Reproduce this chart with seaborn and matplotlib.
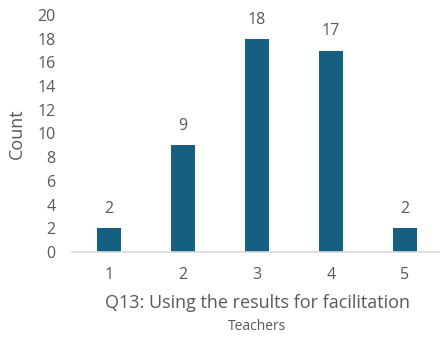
import matplotlib
matplotlib.use("Agg")
import matplotlib.pyplot as plt
import seaborn as sns
import pandas as pd

categories = ["1", "2", "3", "4", "5"]
counts = [2, 9, 18, 17, 2]
y_ticks = [0, 2, 4, 6, 8, 10, 12, 14, 16, 18, 20]
title = "Q13: Using the results for facilitation"
subtitle = "Teachers"
y_label = "Count"

sns.set_theme(style="white")
plt.rcParams["font.family"] = ["Open Sans", "DejaVu Sans"]

text_color = "#595959"
bar_color = "#175f80"

df = pd.DataFrame({"cat": categories, "count": counts})

fig = plt.figure(figsize=(4.4, 3.38), dpi=100)
ax = fig.add_axes([72 / 440, (338 - 252) / 338, 370 / 440, (252 - 15) / 338])

sns.barplot(data=df, x="cat", y="count", color=bar_color, width=0.33,
            saturation=1, ax=ax, edgecolor="none")

ax.set_xlim(-0.5, 4.5)
ax.set_ylim(0, 20)
ax.set_yticks(y_ticks)
ax.set_yticklabels([str(t) for t in y_ticks])
for s in ["top", "right", "left"]:
    ax.spines[s].set_visible(False)
ax.spines["bottom"].set_color("#d9d9d9")
ax.spines["bottom"].set_linewidth(1.2)
ax.tick_params(axis="both", length=0, labelsize=11.5, colors=text_color)
ax.tick_params(axis="y", pad=12)
ax.tick_params(axis="x", pad=11)
ax.set_xlabel("")
ax.set_ylabel("")

for container in ax.containers:
    ax.bar_label(container, labels=[str(v) for v in counts], padding=8,
                 fontsize=11.5, color=text_color)

fig.text(17 / 440, 1 - 134 / 338, y_label, rotation=90, ha="center", va="center",
         fontsize=13, color=text_color)
fig.text(257 / 440, 1 - 303 / 338, title, ha="center", va="center",
         fontsize=13, color=text_color)
fig.text(257 / 440, 1 - 326 / 338, subtitle, ha="center", va="center",
         fontsize=10, color=text_color)

fig.savefig("out.png", dpi=100)
